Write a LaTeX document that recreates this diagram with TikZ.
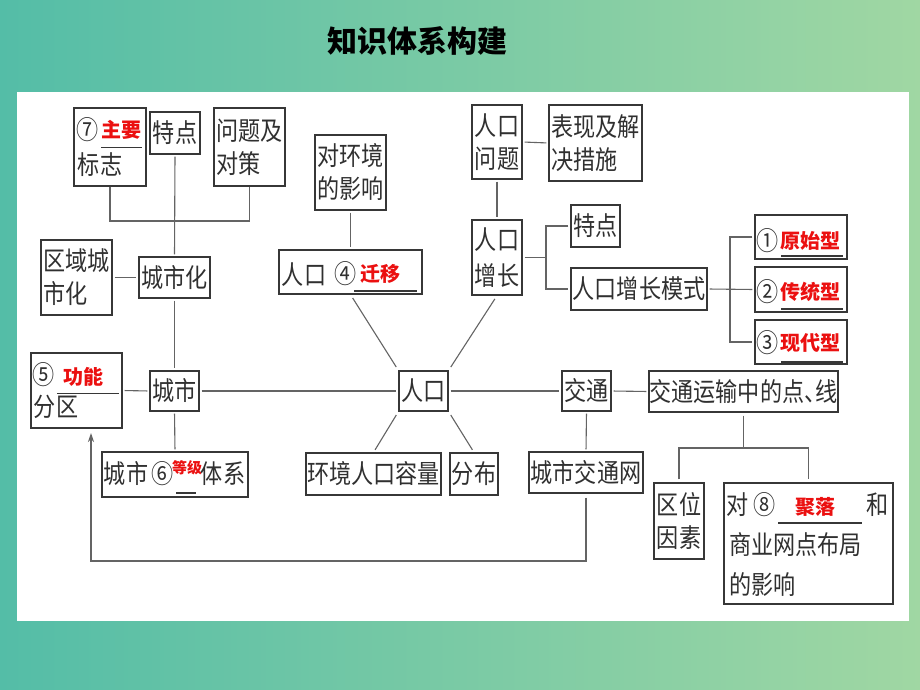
\documentclass[tikz,border=0pt]{standalone}
\usepackage{fontspec}
\usetikzlibrary{fit,arrows.meta,calc}
\newfontfamily\cjk{Noto Sans CJK SC}[FakeStretch=0.85]
\newfontfamily\cjkr{Noto Sans CJK SC}
\definecolor{bgl}{RGB}{84,189,167}
\definecolor{bgr}{RGB}{160,215,163}
\definecolor{tc}{RGB}{48,48,48}
\definecolor{boxc}{RGB}{55,55,55}
\definecolor{linec}{RGB}{100,100,100}
\definecolor{redt}{RGB}{235,16,16}
\begin{document}
\begin{tikzpicture}[x=1pt,y=-1pt,
 box/.style={draw=boxc,line width=1.2pt,inner sep=0pt},
 txt/.style={font=\cjk\fontsize{26}{33}\selectfont,text=tc,inner sep=0pt},
 rtx/.style={font=\cjkr\bfseries\fontsize{20}{24}\selectfont,text=redt,inner sep=0pt},
 conn/.style={draw=linec,line width=1.1pt},
 gap/.style={shorten <=2pt,shorten >=2pt},
 uline/.style={draw=boxc,line width=1.1pt},
]
\useasboundingbox (0,0) rectangle (920,690);
\shade[left color=bgl,right color=bgr] (0,0) rectangle (920,690);
\fill[white] (17,92) rectangle (909,621);

\node[font=\cjkr\bfseries\fontsize{30}{34}\selectfont,text=black] (title) at (417,41) {知识体系构建};

% boxes
\node[box,fit={(74,108) (146,186)}] (b7) {};
\node[box,fit={(150,112) (200,154)},label={[txt]center:特点}] (tdA) {};
\node[box,fit={(214,108) (285,186)},label={[txt,align=left]center:问题及\\对策}] (wt) {};
\node[box,fit={(41,240) (112,315)},label={[txt,align=left]center:区域城\\市化}] (qy) {};
\node[box,fit={(139,257) (210,298)},label={[txt]center:城市化}] (csh) {};
\node[box,fit={(315,135) (386,210)},label={[txt,align=center]center:对环境\\的影响}] (hj) {};
\node[box,fit={(279,250) (422,294)}] (qy4) {};
\node[box,fit={(472,105) (522,179)},label={[txt,align=center]center:人口\\问题}] (rkwt) {};
\node[box,fit={(549,105) (642,181)},label={[txt,align=left]center:表现及解\\决措施}] (bx) {};
\node[box,fit={(472,220) (522,295)},label={[txt,align=center]center:人口\\[3pt]增长}] (rkzz) {};
\node[box,fit={(571,205) (620,247)},label={[txt]center:特点}] (tdB) {};
\node[box,fit={(571,268) (707,310)},label={[txt]center:人口增长模式}] (ms) {};
\node[box,fit={(755,215) (847,259)}] (t1) {};
\node[box,fit={(755,267) (847,312)}] (t2) {};
\node[box,fit={(755,320) (847,364)}] (t3) {};
\node[box,fit={(31,353) (122,428)}] (gn) {};
\node[box,fit={(150,371) (199,411)},label={[txt]center:城市}] (cs) {};
\node[box,fit={(399,371) (448,411)},label={[txt]center:人口}] (rk) {};
\node[box,fit={(102,452) (248,497)}] (dj) {};
\node[box,fit={(306,453) (441,495)},label={[txt]center:环境人口容量}] (rl) {};
\node[box,fit={(450,453) (498,495)},label={[txt]center:分布}] (fb) {};
\node[box,fit={(562,371) (611,411)},label={[txt]center:交通}] (jt) {};
\node[box,fit={(649,371) (838,412)},label={[txt]center:交通运输中的点、\hspace{-11pt}线}] (ys) {};
\node[box,fit={(529,452) (643,493)},label={[txt]center:城市交通网}] (jtw) {};
\node[box,fit={(654,483) (704,559)},label={[txt,align=center]center:区位\\因素}] (qw) {};
\node[box,fit={(724,483) (893,604)}] (jl) {};

% texts inside compound boxes
\node[txt] (n7) at (88,130) {⑦};
\node[rtx] (r7) at (121,130) {主要};
\draw[uline] (101,147.5) -- (142,147.5);
\node[txt] (bz) at (100,165) {标志};

\node[txt] (rk4) at (304,275) {人口};
\node[txt] (n4) at (346,274) {④};
\node[rtx] (r4) at (380,274) {迁移};
\draw[uline] (354,291) -- (417,291);

\node[txt] (n1) at (768,241) {①};
\node[rtx] (r1) at (810,241) {原始型};
\draw[uline] (781,256) -- (843,256);
\node[txt] (n2) at (768,292) {②};
\node[rtx] (r2) at (810,292) {传统型};
\draw[uline] (781,309) -- (843,309);
\node[txt] (n3) at (768,343) {③};
\node[rtx] (r3) at (810,343) {现代型};
\draw[uline] (781,362) -- (843,362);

\node[txt] (n5) at (44,375) {⑤};
\node[rtx] (r5) at (83,377) {功能};
\draw[uline] (57,393.5) -- (119,393.5);
\node[txt] (fq) at (56,407) {分区};

\node[txt] (cs6) at (126,474) {城市};
\node[txt] (n6) at (163,474) {⑥};
\node[rtx,font=\cjkr\bfseries\fontsize{15}{18}\selectfont] (r6) at (187,468) {等级};
\draw[uline] (176,493) -- (196,493);
\node[txt] (tx6) at (223,474) {体系};

\node[txt] (dui) at (738,505) {对};
\node[txt] (n8) at (765,505) {⑧};
\node[rtx] (r8) at (815,507) {聚落};
\node[txt] (he) at (878,505) {和};
\draw[uline] (778,523) -- (862,523);
\node[txt,anchor=west] (sy) at (729,545) {商业网点布局};
\node[txt,anchor=west] (yx) at (729,585) {的影响};

% connectors
\coordinate (brk) at (0,221);
\draw[conn] (b7.south) -- (b7.south |- brk) -- (wt.south |- brk) -- (wt.south);
\draw[conn,gap] (tdA.south) -- (csh.north);
\draw[conn,gap] (qy.east) -- (csh.west);
\draw[conn,gap] (csh.south) -- (cs.north);
\draw[conn,gap] (gn.east) -- (cs.west);
\draw[conn,gap] (cs.east) -- (rk.west);
\draw[conn,gap] (cs.south) -- (dj.north);
\draw[conn,gap] (hj.south) -- (qy4.north);
\draw[conn,shorten <=4pt,shorten >=4pt] (qy4.south) -- (rk.north west);
\draw[conn,shorten <=4pt,shorten >=4pt] (rkzz.south) -- (rk.north east);
\draw[conn,shorten <=4pt,shorten >=3pt] (rk.south west) -- (rl.north);
\draw[conn,shorten <=4pt,shorten >=3pt] (rk.south east) -- (fb.north);
\draw[conn,gap] (rk.east) -- (jt.west);
\draw[conn,gap] (jt.east) -- (ys.west);
\draw[conn,gap] (jt.south) -- (jtw.north);
\draw[conn,gap] (rkwt.south) -- (rkzz.north);
\draw[conn,gap] (rkwt.east) -- (bx.west);

\coordinate (bzx) at (546,0);
\draw[conn,shorten <=2pt] (rkzz.east) -- (rkzz.east -| bzx);
\draw[conn,shorten <=2pt,shorten >=2pt] (tdB.west) -- (tdB.west -| bzx) -- (ms.west -| bzx) -- (ms.west);
\coordinate (bmx) at (730,0);
\draw[conn,gap] (ms.east) -- (t2.west);
\draw[conn,shorten <=2pt,shorten >=2pt] (t1.west) -- (t1.west -| bmx) -- (t3.west -| bmx) -- (t3.west);

\coordinate (brk2) at (0,448);
\draw[conn,shorten <=3pt] (ys.south) -- (ys.south |- brk2);
\draw[conn,shorten <=3pt,shorten >=3pt] (qw.north) -- (qw.north |- brk2) -- (jl.north |- brk2) -- (jl.north);

\coordinate (ret) at (91,561);
\coordinate (retend) at (91,433);
\draw[conn,shorten <=4pt,-{Stealth[length=9pt,width=6pt]}] (jtw.south) |- (ret) -- (retend);
\end{tikzpicture}
\end{document}
